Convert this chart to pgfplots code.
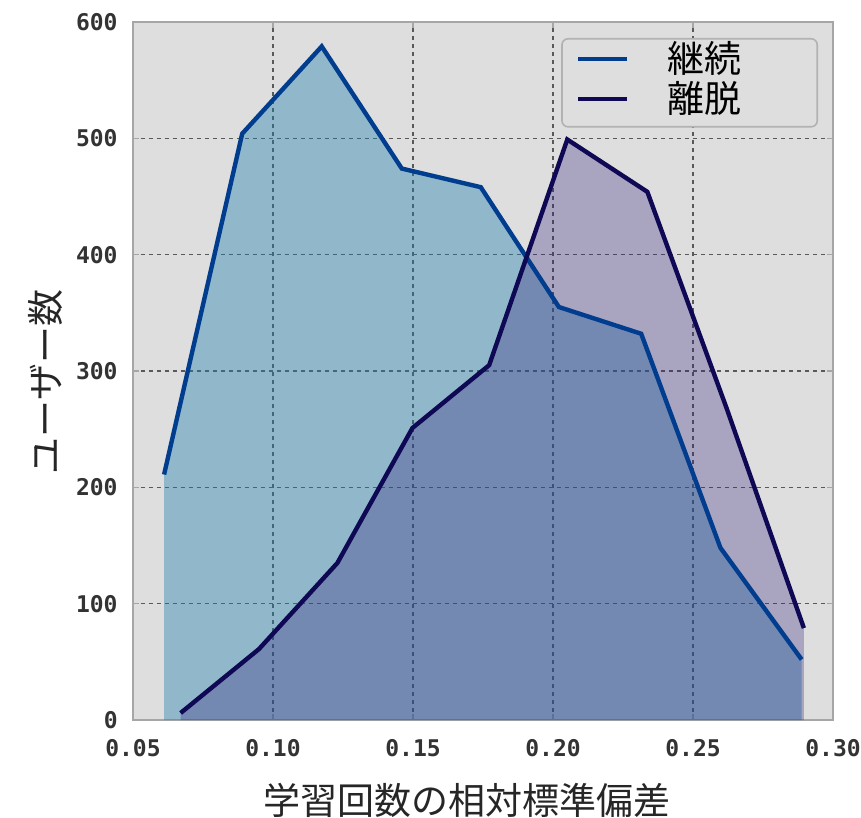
\documentclass[border=0pt]{standalone}
\usepackage{pgfplots}
\pgfplotsset{compat=1.18}
\usepackage{fontspec}
\setmainfont{DejaVu Sans}
\newfontfamily\cjk{Noto Sans CJK JP}
\newfontfamily\tickfont{DejaVu Sans Mono}
\definecolor{bg}{RGB}{222,222,222}
\definecolor{bfill}{RGB}{30,125,175}
\definecolor{pfill}{RGB}{49,32,122}
\definecolor{bline}{RGB}{0,61,143}
\definecolor{pline}{RGB}{15,8,85}
\begin{document}
\begin{tikzpicture}
\begin{axis}[
  at={(0,0)}, anchor=south west,
  scale only axis, width=350pt, height=349pt,
  xmin=0.05, xmax=0.30, ymin=0, ymax=600,
  xtick={0.05,0.1,0.15,0.2,0.25,0.3},
  xticklabels={0.05,0.10,0.15,0.20,0.25,0.30},
  ytick={0,100,200,300,400,500,600},
  yticklabels={0,100,200,300,400,500,600},
  axis background/.style={fill=bg},
  axis line style={gray!70, line width=0.8pt},
  grid=major,
  major grid style={dash pattern=on 2.2pt off 1.8pt, line width=0.8pt, color=black!65},
  tick style={gray!70, line width=0.6pt}, major tick length=3pt,
  tick align=inside,
  ticklabel style={font=\tickfont\bfseries\fontsize{11.5}{13}\selectfont, text=black!80},
  /pgf/number format/assume math mode=true,
  yticklabel style={anchor=east, inner sep=0pt, xshift=-7.5pt},
  xticklabel style={anchor=center, inner sep=0pt, yshift=-14pt},
  xlabel={\cjk\fontsize{18.5}{20}\selectfont 学習回数の相対標準偏差},
  xlabel style={at={([xshift=-8pt,yshift=-40pt]axis description cs:0.5,0)}, anchor=center, text=black!85},
  ylabel={\cjk\fontsize{18.5}{20}\selectfont ユーザー数},
  ylabel style={at={([xshift=-44pt,yshift=-5.5pt]axis description cs:0,0.5)}, anchor=center, text=black!85},
  legend style={at={(1,1)}, anchor=north east, xshift=-7.5pt, yshift=-8pt,
    draw=gray!60, line width=0.8pt, fill=bg, rounded corners=3pt,
    font=\cjk\fontsize{18.5}{20}\selectfont, inner sep=0pt, row sep=-4pt,
    nodes={inner sep=0pt}},
  legend image code/.code={\path[draw=none,fill=none] (-8pt,-14pt) rectangle (24.5pt,10pt);
    \draw[#1] (0pt,0pt) -- (24.5pt,0pt);},
  legend cell align=left,
]
\addplot[draw=none, fill=bfill, fill opacity=0.4, forget plot] coordinates {
(0.0611,211) (0.0890,504) (0.1174,579) (0.1460,474) (0.1742,458) (0.2021,355) (0.2315,332) (0.2598,148) (0.2888,52)
} \closedcycle;
\addplot[draw=none, fill=pfill, fill opacity=0.3, forget plot] coordinates {
(0.0670,6) (0.0950,61) (0.1230,135) (0.1498,251) (0.1772,305) (0.2051,499) (0.2337,454) (0.2620,268) (0.2896,79)
} \closedcycle;
\addplot[bline, line width=2.2pt] coordinates {
(0.0611,211) (0.0890,504) (0.1174,579) (0.1460,474) (0.1742,458) (0.2021,355) (0.2315,332) (0.2598,148) (0.2888,52)
};
\addlegendentry{\hspace*{19pt}継続\hspace*{38pt}}
\addplot[pline, line width=2.2pt] coordinates {
(0.0670,6) (0.0950,61) (0.1230,135) (0.1498,251) (0.1772,305) (0.2051,499) (0.2337,454) (0.2620,268) (0.2896,79)
};
\addlegendentry{\hspace*{19pt}離脱\hspace*{38pt}}
\end{axis}
\pgfresetboundingbox
\useasboundingbox (-66.5pt,-49pt) rectangle (364pt,360pt);
\end{tikzpicture}
\end{document}
